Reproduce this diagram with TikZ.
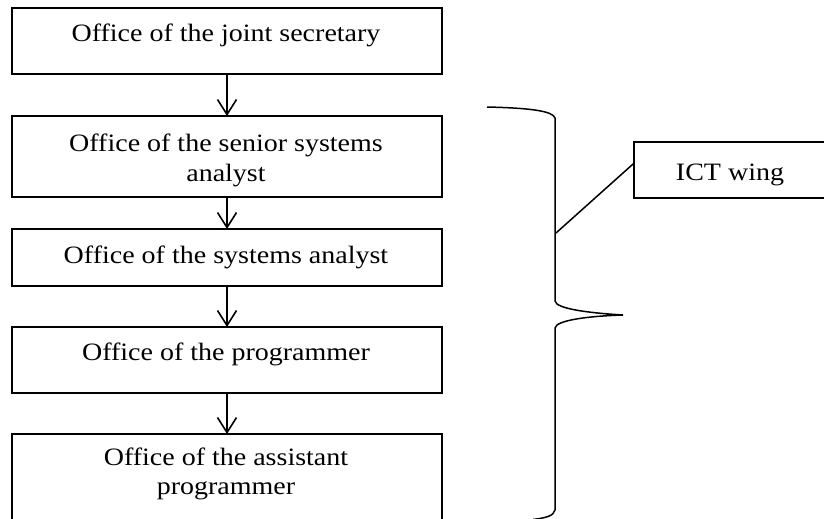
\documentclass[tikz,border=0pt]{standalone}
\usepackage{fontspec}
\setmainfont{Liberation Serif}[FakeStretch=1.12]
\usetikzlibrary{arrows.meta}
\begin{document}
\begin{tikzpicture}[x=1pt,y=-1pt,
  box/.style={draw,line width=1.8pt,minimum width=430pt,inner sep=0pt,outer sep=0pt},
  txt/.style={anchor=base,inner sep=0pt,font=\fontsize{25}{30}\selectfont},
  flow/.style={line width=1.6pt,-{Straight Barb[length=15pt,width=19pt,line width=1.6pt]}},
  brace/.style={line width=1.5pt},
  link/.style={line width=1.5pt}]
\useasboundingbox (0,0) rectangle (824,519);
\clip (0,0) rectangle (824,519);
% boxes
\node[box,minimum height=66pt] (b1) at (227,41) {};
\node[box,minimum height=81pt] (b2) at (227,156.5) {};
\node[box,minimum height=57pt] (b3) at (227,257.5) {};
\node[box,minimum height=66pt] (b4) at (227,360) {};
\node[box,minimum height=106pt] (b5) at (227,487) {};
\node[draw,line width=1.8pt,minimum width=196pt,minimum height=56pt,inner sep=0pt,outer sep=0pt] (ict) at (732,170) {};
% texts
\node[txt] (t1) at (226,42) {Office of the joint secretary};
\node[txt] (t2a) at (226,151) {Office of the senior systems};
\node[txt] (t2b) at (226,181) {analyst};
\node[txt] (t3) at (226,263) {Office of the systems analyst};
\node[txt] (t4) at (226,360) {Office of the programmer};
\node[txt] (t5a) at (226,465) {Office of the assistant};
\node[txt] (t5b) at (226,494) {programmer};
\node[txt] (t6) at (730,180) {ICT wing};
% arrows
\draw[flow] (b1.south) -- (b2.north);
\draw[flow] (b2.south) -- (b3.north);
\draw[flow] (b3.south) -- (b4.north);
\draw[flow] (b4.south) -- (b5.north);
% brace
\draw[brace] (487,107) .. controls (530,108) and (553,111) .. (555,118)
  -- (555,301) .. controls (556,309) and (590,313) .. (623,315)
  .. controls (590,316) and (556,320) .. (555,328)
  -- (555,510) .. controls (554,516) and (545,518) .. (533,519.5);
\coordinate (bj) at (556,233);
\draw[link] (bj) -- (ict.176);
\end{tikzpicture}
\end{document}
